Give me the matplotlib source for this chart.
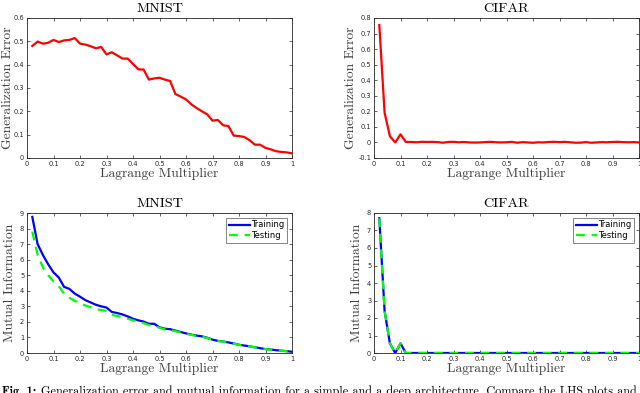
import numpy as np
import matplotlib
matplotlib.use("Agg")
import matplotlib.pyplot as plt

lam = [round(0.02 * i, 2) for i in range(1, 51)]

mnist_err = [0.480, 0.499, 0.490, 0.494, 0.506, 0.497, 0.504, 0.506, 0.514, 0.490,
             0.486, 0.479, 0.470, 0.476, 0.444, 0.453, 0.440, 0.426, 0.426, 0.403,
             0.380, 0.379, 0.336, 0.341, 0.344, 0.336, 0.330, 0.274, 0.263, 0.251,
             0.230, 0.214, 0.200, 0.187, 0.160, 0.163, 0.140, 0.137, 0.096, 0.094,
             0.090, 0.076, 0.057, 0.057, 0.043, 0.037, 0.029, 0.026, 0.024, 0.020]

cifar_err = [0.755, 0.190, 0.040, 0.000, 0.052, 0.003, 0.003, 0.001, 0.004, 0.003,
             0.004, 0.002, -0.002, 0.003, 0.004, 0.001, 0.003, 0.000, -0.001, 0.000,
             0.002, 0.004, 0.001, 0.000, 0.001, 0.004, -0.002, 0.002, 0.000, -0.002,
             0.001, 0.000, 0.003, 0.004, 0.002, 0.004, 0.001, -0.002, -0.001, 0.002,
             -0.002, 0.000, 0.002, 0.001, 0.003, 0.004, 0.002, 0.001, 0.002, 0.000]

mnist_mi_train = [8.75, 7.00, 6.30, 5.70, 5.18, 4.85, 4.25, 4.12, 3.82, 3.62,
                  3.40, 3.25, 3.10, 3.00, 2.92, 2.64, 2.57, 2.48, 2.35, 2.20,
                  2.10, 2.02, 1.88, 1.88, 1.65, 1.56, 1.53, 1.44, 1.35, 1.26,
                  1.18, 1.12, 1.07, 0.98, 0.86, 0.78, 0.74, 0.68, 0.61, 0.53,
                  0.48, 0.43, 0.37, 0.31, 0.25, 0.22, 0.18, 0.15, 0.12, 0.08]

mnist_mi_test = [7.80, 6.30, 5.50, 5.00, 4.60, 4.30, 3.80, 3.55, 3.35, 3.20,
                 3.05, 2.95, 2.82, 2.76, 2.70, 2.45, 2.38, 2.30, 2.20, 2.10,
                 2.00, 1.92, 1.80, 1.75, 1.62, 1.52, 1.48, 1.40, 1.32, 1.24,
                 1.16, 1.10, 1.05, 0.96, 0.84, 0.77, 0.73, 0.67, 0.60, 0.52,
                 0.47, 0.42, 0.36, 0.30, 0.25, 0.21, 0.17, 0.14, 0.11, 0.08]

cifar_mi_train = [7.70, 2.40, 0.55, 0.00, 0.55, 0.00] + [0.0] * 44
cifar_mi_test = [7.70, 2.40, 0.55, 0.00, 0.55, 0.00] + [0.0] * 44

xticks = [0, 0.1, 0.2, 0.3, 0.4, 0.5, 0.6, 0.7, 0.8, 0.9, 1]
xticklabels = ["0", "0.1", "0.2", "0.3", "0.4", "0.5", "0.6", "0.7", "0.8", "0.9", "1"]

titles = ["MNIST", "CIFAR", "MNIST", "CIFAR"]
ylabels = ["Generalization Error", "Generalization Error", "Mutual Information", "Mutual Information"]
legend_labels = ["Training", "Testing"]

SERIF = "cmr10"
fig = plt.figure(figsize=(6.4, 3.93), dpi=100)

W, H = 640.0, 393.0
boxes = [(27, 18, 292, 158), (374, 18, 639, 158), (27, 213, 292, 353), (374, 213, 639, 353)]
ylabel_x = [-0.049, -0.064, -0.042, -0.042]
axes = []
for (l, t, r, b) in boxes:
    ax = fig.add_axes([l / W, 1 - b / H, (r - l) / W, (b - t) / H])
    axes.append(ax)

def style(ax, yticks, ylabels_txt, ylim, title, ylabel, lx):
    ax.set_xlim(0, 1)
    ax.set_ylim(*ylim)
    ax.set_xticks(xticks)
    ax.set_xticklabels(xticklabels)
    ax.set_yticks(yticks)
    ax.set_yticklabels(ylabels_txt)
    ax.tick_params(direction="in", length=2.5, width=0.5, labelsize=4.8,
                   colors="#262626", top=True, right=True, pad=2)
    for s in ax.spines.values():
        s.set_linewidth(0.6)
        s.set_color("#262626")
    ax.set_title(title, family=SERIF, fontsize=10.2, pad=4)
    ax.set_xlabel("Lagrange Multiplier", family=SERIF, fontsize=9.8, labelpad=1, color="#404040")
    ax.set_ylabel(ylabel, family=SERIF, fontsize=9.8, color="#404040")
    ax.yaxis.set_label_coords(lx, 0.5)

ax = axes[0]
ax.plot(lam, mnist_err, color="#ff0000", lw=1.6)
style(ax, [0, 0.1, 0.2, 0.3, 0.4, 0.5, 0.6], ["0", "0.1", "0.2", "0.3", "0.4", "0.5", "0.6"],
      (0, 0.6), titles[0], ylabels[0], ylabel_x[0])

ax = axes[1]
ax.plot(lam, cifar_err, color="#ff0000", lw=1.6)
style(ax, [-0.1, 0, 0.1, 0.2, 0.3, 0.4, 0.5, 0.6, 0.7, 0.8],
      ["-0.1", "0", "0.1", "0.2", "0.3", "0.4", "0.5", "0.6", "0.7", "0.8"],
      (-0.1, 0.8), titles[1], ylabels[1], ylabel_x[1])

ax = axes[2]
ax.plot(lam, mnist_mi_train, color="#0000ff", lw=1.6, label=legend_labels[0])
ax.plot(lam, mnist_mi_test, color="#00ff00", lw=1.6, ls=(0, (4, 3)), label=legend_labels[1])
style(ax, list(range(0, 10)), [str(i) for i in range(0, 10)], (0, 9), titles[2], ylabels[2], ylabel_x[2])

ax = axes[3]
ax.plot(lam, cifar_mi_train, color="#0000ff", lw=1.6, label=legend_labels[0])
ax.plot(lam, cifar_mi_test, color="#00ff00", lw=1.6, ls=(0, (4, 3)), label=legend_labels[1])
style(ax, list(range(0, 9)), [str(i) for i in range(0, 9)], (0, 8), titles[3], ylabels[3], ylabel_x[3])

for ax in axes[2:]:
    leg = ax.legend(loc="upper right", fontsize=6, frameon=True, fancybox=False,
                    handlelength=2.6, borderpad=0.3, labelspacing=0.2, handletextpad=0.1,
                    borderaxespad=0.6)
    leg.get_frame().set_edgecolor("#262626")
    leg.get_frame().set_linewidth(0.5)

caption_bold = "Fig. 1:"
caption = ("Generalization error and mutual information for a simple and a deep "
           "architecture. Compare the LHS plots and to the right side of the figure")
tb = fig.text(0.003, -0.006, caption_bold, family="cmb10", fontsize=8.8, va="baseline")
fig.canvas.draw()
bb = tb.get_window_extent(renderer=fig.canvas.get_renderer())
fig.text(bb.x1 / W + 0.007, -0.006, caption, family=SERIF, fontsize=8.8, va="baseline")

fig.savefig("out.png", dpi=100)
